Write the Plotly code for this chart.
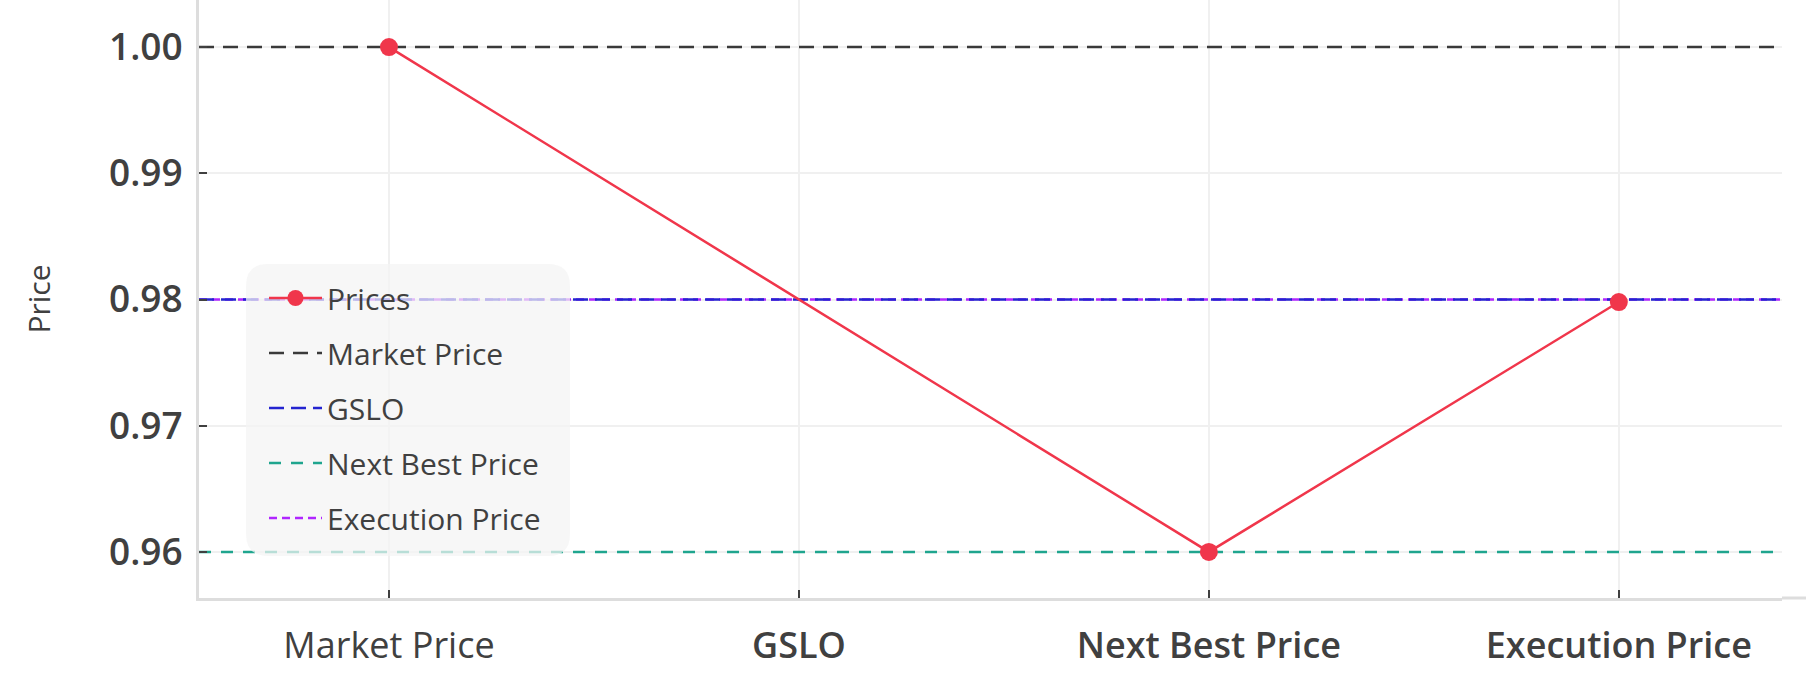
import plotly.graph_objects as go

# ---- data ----
categories = ["Market Price", "GSLO", "Next Best Price", "Execution Price"]
tick_labels = ["Market Price",
               "<span style='font-weight:600'>GSLO</span>",
               "<span style='font-weight:600'>Next Best Price</span>",
               "<span style='font-weight:600'>Execution Price</span>"]
price_values = [1.00, None, 0.96, 0.9798]
ref_names = ["Market Price", "GSLO", "Next Best Price", "Execution Price"]
ref_levels = [1.00, 0.98, 0.96, 0.98]
ref_colors = ["#3a3a3a", "#2424d0", "#1fa58e", "#b026ff"]
ref_dashes = ["15px,9px", "15px,7px", "12px,10px", "8px,5px"]
ref_draw_order = [0, 3, 2, 1]   # execution line drawn beneath GSLO
y_ticks = [0.96, 0.97, 0.98, 0.99, 1.00]

W, H = 1806, 678
ML, MR, MT, MB = 199, 24, 0, 80
x_range = [-0.4634, 3.398]
y_range = [0.95635, 1.00373]

fig = go.Figure()
xs = list(range(len(categories)))
for i in ref_draw_order:
    fig.add_trace(go.Scatter(
        x=x_range, y=[ref_levels[i], ref_levels[i]], name=ref_names[i], mode="lines",
        line=dict(color=ref_colors[i], width=2.5, dash=ref_dashes[i]),
        legendgroup="g%d" % i, legendrank=10 + i, hoverinfo="skip",
    ))
fig.add_trace(go.Scatter(
    x=xs, y=price_values, name="Prices", mode="lines+markers",
    connectgaps=True, line=dict(color="#f0364b", width=2.5),
    marker=dict(color="#f0364b", size=18), legendgroup="a", legendrank=1,
))

pw = W - ML - MR
ph = H - MT - MB
# legend background (rounded, semi transparent)
lx0, lx1, ly0, ly1, r = 246, 570, 264, 556, 22
def px(x):
    return (x - ML) / pw
def py(y):
    return 1 - (y - MT) / ph
path = (f"M {px(lx0+r)},{py(ly0)} L {px(lx1-r)},{py(ly0)} Q {px(lx1)},{py(ly0)} {px(lx1)},{py(ly0+r)} "
        f"L {px(lx1)},{py(ly1-r)} Q {px(lx1)},{py(ly1)} {px(lx1-r)},{py(ly1)} "
        f"L {px(lx0+r)},{py(ly1)} Q {px(lx0)},{py(ly1)} {px(lx0)},{py(ly1-r)} "
        f"L {px(lx0)},{py(ly0+r)} Q {px(lx0)},{py(ly0)} {px(lx0+r)},{py(ly0)} Z")
fig.add_shape(type="path", path=path, xref="paper", yref="paper",
              fillcolor="rgba(244,244,244,0.72)", line=dict(width=0), layer="above")
# x-axis line extension to the right edge
fig.add_shape(type="line", xref="paper", yref="paper", x0=1, x1=(W - ML) / pw, y0=0, y1=0,
              line=dict(color="#dddddd", width=3))

fig.update_layout(
    width=W, height=H,
    margin=dict(l=ML, r=MR, t=MT, b=MB),
    paper_bgcolor="white", plot_bgcolor="white",
    font=dict(family="Open Sans", color="#404040"),
    showlegend=True,
    legend=dict(
        x=px(264), y=py(272), xanchor="left", yanchor="top",
        bgcolor="rgba(0,0,0,0)", font=dict(size=30, color="#404040"),
        tracegroupgap=13, traceorder="grouped", itemwidth=53,
    ),
    xaxis=dict(
        range=x_range, tickmode="array", tickvals=xs, ticktext=tick_labels,
        showgrid=True, gridcolor="#f0f0f0", gridwidth=2, zeroline=False,
        showline=True, linecolor="#dddddd", linewidth=3,
        ticks="inside", ticklen=8, tickwidth=2, tickcolor="#404040",
        tickfont=dict(size=36, color="#404040"), ticklabelstandoff=14,
    ),
    yaxis=dict(
        range=y_range, tickmode="array", tickvals=y_ticks, tickformat=".2f",
        showgrid=True, gridcolor="#f0f0f0", gridwidth=2, zeroline=False,
        showline=True, linecolor="#dddddd", linewidth=3,
        ticks="inside", ticklen=8, tickwidth=2, tickcolor="#404040",
        tickfont=dict(size=37, color="#404040", weight=600), ticklabelstandoff=6,
        title=dict(text="Price", font=dict(size=30, color="#404040"), standoff=50),
    ),
)

fig.write_html("out.html", config={"displayModeBar": False},
               post_script="document.body.style.margin='0';document.body.style.overflow='hidden';")
